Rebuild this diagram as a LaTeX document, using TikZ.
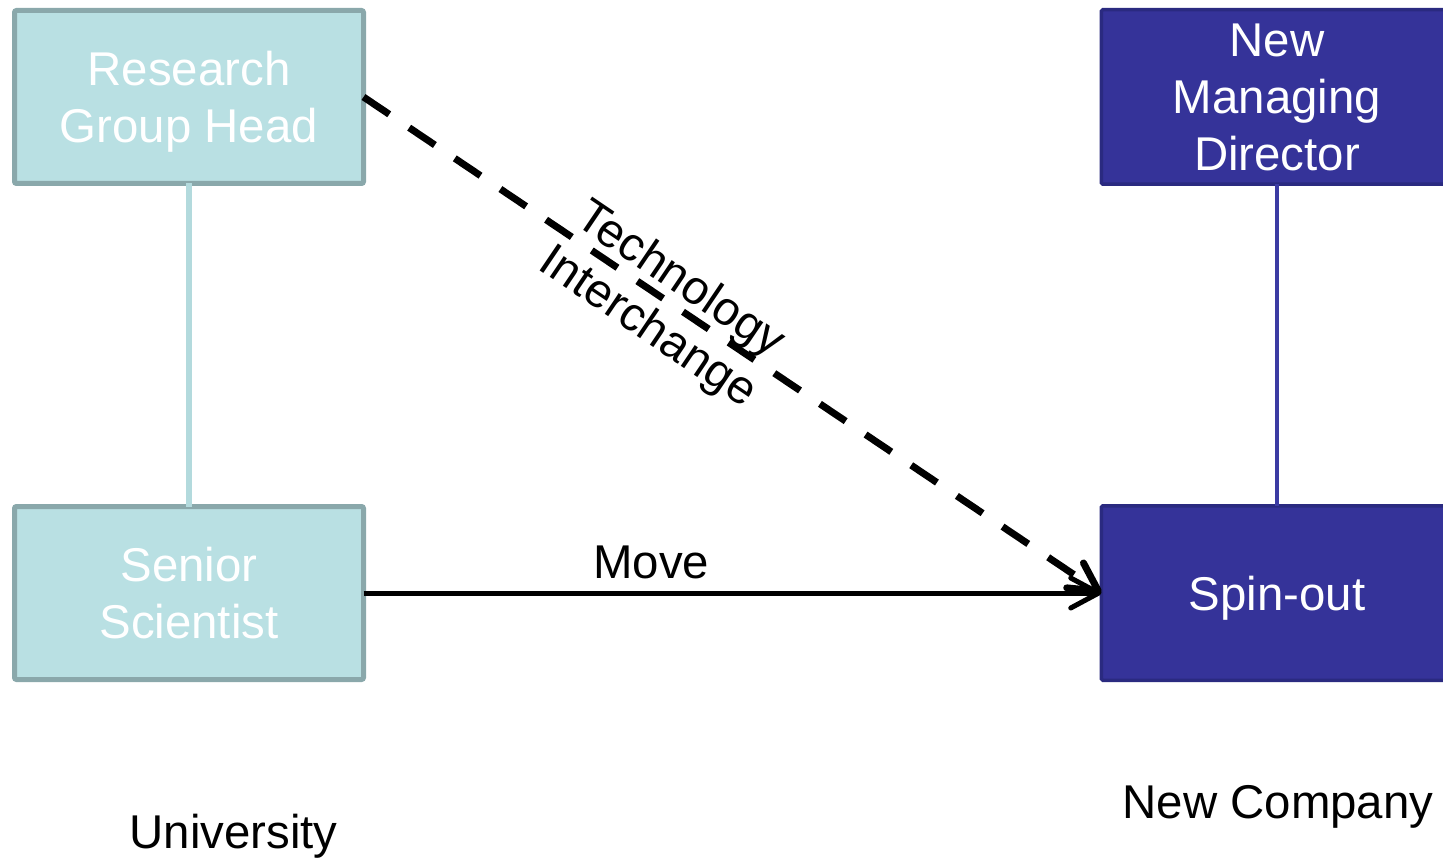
\documentclass[tikz,border=0pt]{standalone}
\usepackage{fontspec}
\setmainfont{Liberation Sans}
\usetikzlibrary{arrows.meta}

\definecolor{uniFill}{HTML}{B9E0E3}
\definecolor{uniEdge}{HTML}{8AA8AB}
\definecolor{uniLink}{HTML}{B3DADD}
\definecolor{coFill}{HTML}{353399}
\definecolor{coEdge}{HTML}{2A2A80}
\definecolor{coLink}{HTML}{3B3BA3}

\begin{document}
\begin{tikzpicture}[x=1pt,y=-1pt,
  every node/.style={font=\fontsize{47.4}{57}\selectfont, inner sep=0pt, outer sep=0pt},
  unibox/.style={draw=uniEdge, fill=uniFill, line width=5pt, rounded corners=2pt,
    minimum width=349pt, minimum height=173pt, text=white, align=center, text depth=0pt},
  cobox/.style={draw=coEdge, fill=coFill, line width=3.5pt, rounded corners=1.5pt,
    minimum width=351.5pt, minimum height=174.5pt, text=white, align=center, text depth=0pt},
  tip/.style={-{Straight Barb[length=28pt,width=30pt,round]}},
  caption/.style={anchor=base, text=black}
]
\useasboundingbox (0,0) rectangle (1443,858);

% university side
\node[unibox] (rgh) at (189,97)  {Research\\Group Head};
\node[unibox] (ss)  at (189,593) {Senior\\Scientist};

% new company side
\node[cobox] (nmd)  at (1277,97)  {New\\Managing\\Director};
\node[cobox] (spin) at (1277,593) {Spin-out};

% reporting lines
\draw[uniLink, line width=6pt] (rgh.south) -- (ss.north);
\draw[coLink, line width=4pt] (nmd.south) -- (spin.north);

% relations between the two sides
\draw[tip, line width=5pt] (ss.east) -- (spin.west)
  node[pos=0.39, anchor=base, yshift=15pt] (move) {Move};
\draw[tip, line width=7pt, dash pattern=on 31pt off 24pt] (rgh.east) -- (spin.west)
  node[pos=0.41, rotate=-34.07, align=center, text depth=0pt] (tech) {Technology\\Interchange};

% organisation captions
\node[caption] (uni) at (233.5,848) {University};
\node[caption] (co)  at (1278,818)  {New Company};
\end{tikzpicture}
\end{document}
